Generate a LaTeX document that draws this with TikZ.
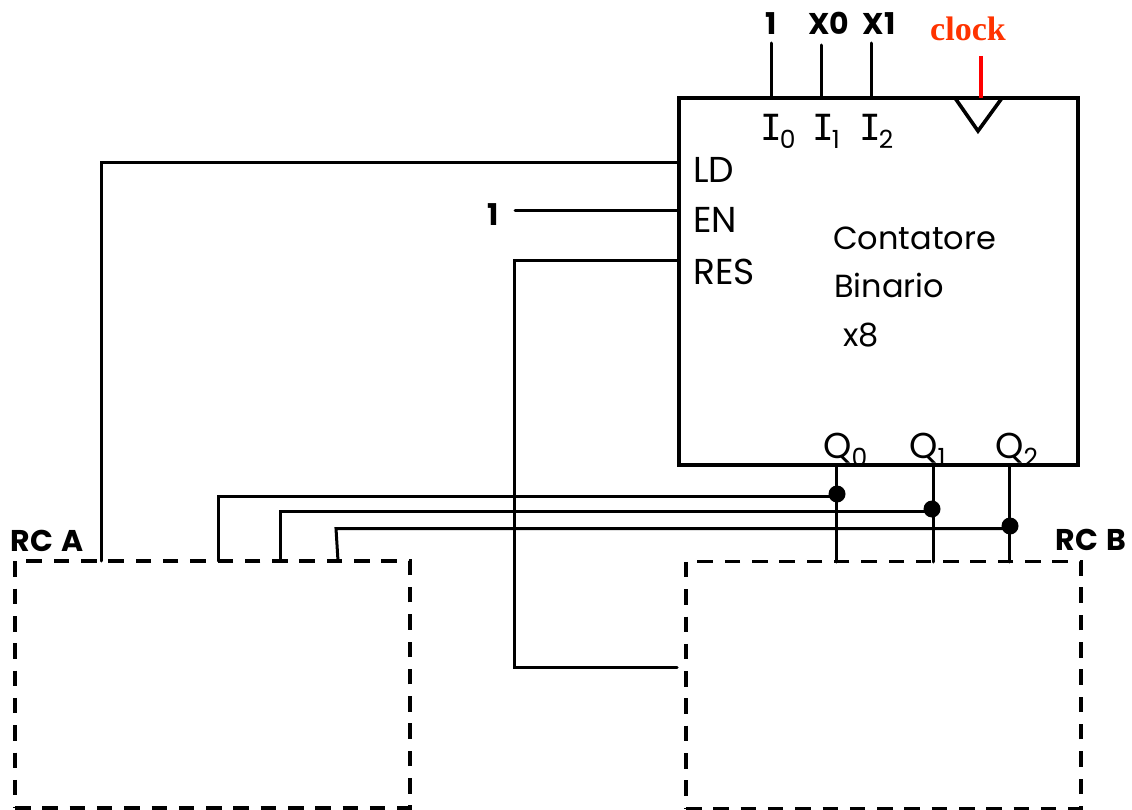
\documentclass[tikz,border=0pt]{standalone}
\usepackage{fontspec}
\setmainfont{Poppins}
\newfontfamily\monofam{DejaVu Sans Mono}
\newfontfamily\clockfam{Liberation Serif}
\usepackage{tikz}
\definecolor{clockred}{RGB}{255,51,0}
\newcommand{\subidx}[1]{\raisebox{-8pt}{\fontsize{25}{25}\selectfont #1}}

\begin{document}
\begin{tikzpicture}[
    x=1pt,y=-1pt,
    wire/.style={line width=3pt,line cap=round},
    block_box/.style={draw,line width=3.6pt,minimum width=399pt,minimum height=367pt,inner sep=0pt},
    rc_box/.style={draw,line width=3.6pt,dash pattern=on 15.5pt off 11.8pt,minimum width=395pt,minimum height=247pt,inner sep=0pt},
    dot_node/.style={circle,fill=black,minimum size=17pt,inner sep=0pt},
    lbl/.style={anchor=base west,inner sep=0pt,font=\fontsize{36}{36}\selectfont},
    lbl_low/.style={anchor=base west,inner sep=0pt,font=\fontsize{32}{32}\selectfont},
    lbl_bold/.style={anchor=base,inner sep=0pt,font=\fontsize{30}{30}\selectfont\bfseries}
  ]
    \useasboundingbox (0,0) rectangle (1132,810);

    % boxes
    \node[block_box] (cnt) at (878.5,281.5) {};
    \node[rc_box] (rca) at (212.5,684.5) {};
    \node[rc_box] (rcb) at (883.5,685) {};

    % clock triangle
    \coordinate (clk_l) at (955,98);
    \coordinate (clk_r) at (1002,98);
    \coordinate (clk_t) at (978,131);
    \draw[line width=3.6pt,line join=miter] (clk_l) -- (clk_t) -- (clk_r);

    % labels in the block
    \node[lbl] (ld) at (693,183) {LD};
    \node[lbl] (en) at (693,233) {EN};
    \node[lbl] (res) at (693,285) {RES};
    \node[lbl_low] (name1) at (833,250) {Contatore};
    \node[lbl_low] (name2) at (834,298) {Binario};
    \node[lbl_low] (name3) at (843,346) {x8};
    \node[lbl] (i0) at (760,141) {{\monofam I}\kern-2pt\subidx{0}};
    \node[lbl] (i1) at (812,141) {{\monofam I}\kern-2pt\subidx{1}};
    \node[lbl] (i2) at (859,141) {{\monofam I}\kern-2pt\subidx{2}};
    \node[lbl] (q0) at (823,458) {Q\subidx{0}};
    \node[lbl] (q1) at (909,458) {Q\subidx{1}};
    \node[lbl] (q2) at (995,458) {Q\subidx{2}};

    % labels outside
    \node[lbl_bold] (one_i) at (771,35) {1};
    \node[lbl_bold] (x0) at (829,35) {X0};
    \node[lbl_bold] (x1) at (879,35) {X1};
    \node[lbl_bold] (one_en) at (493,226) {1};
    \node[lbl_bold] (rca_lbl) at (47,551) {RC\kern2pt{} A};
    \node[lbl_bold] (rcb_lbl) at (1091,550) {RC\kern2pt{} B};
    \node[anchor=base,inner sep=0pt,text=clockred,font=\fontsize{34}{34}\selectfont\clockfam\bfseries] (clk) at (968,41) {clock};

    % pins
    \coordinate (i0_t) at (771,43);
    \coordinate (i0_b) at (771,98);
    \coordinate (i1_t) at (821,45);
    \coordinate (i1_b) at (821,98);
    \coordinate (i2_t) at (871,43);
    \coordinate (i2_b) at (871,98);
    \coordinate (clk_a) at (981,56);
    \coordinate (clk_b) at (981,98);
    \coordinate (ld_in) at (679,162.5);
    \coordinate (en_in) at (679,211);
    \coordinate (en_out) at (515,211);
    \coordinate (res_in) at (679,261);
    \coordinate (res_m1) at (514,261);
    \coordinate (res_m2) at (514,667);
    \coordinate (res_out) at (677,667);
    \coordinate (ld_m) at (101,162.5);
    \coordinate (ld_out) at (101,561);

    \draw[wire] (i0_t) -- (i0_b);
    \draw[wire] (i1_t) -- (i1_b);
    \draw[wire] (i2_t) -- (i2_b);
    \draw[wire,red,line cap=butt,line width=3.6pt] (clk_a) -- (clk_b);
    \draw[wire] (ld_in) -- (ld_m) -- (ld_out);
    \draw[wire] (en_in) -- (en_out);
    \draw[wire] (res_in) -- (res_m1) -- (res_m2) -- (res_out);

    % outputs
    \node[dot_node] (d0) at (837,494) {};
    \node[dot_node] (d1) at (932,509) {};
    \node[dot_node] (d2) at (1010,526) {};
    \coordinate (q0_t) at (836,465);
    \coordinate (q0_b) at (836,562);
    \coordinate (q1_t) at (933,465);
    \coordinate (q1_b) at (933,562);
    \coordinate (q2_t) at (1009,465);
    \coordinate (q2_b) at (1009,562);
    \coordinate (a0_m) at (218,496);
    \coordinate (a0_b) at (218,561);
    \coordinate (a1_m) at (280,511);
    \coordinate (a1_b) at (280,561);
    \coordinate (a2_m) at (336,528.5);
    \coordinate (a2_b) at (338,561);
    \coordinate (d0_w) at (837,496);
    \coordinate (d1_w) at (932,511);
    \coordinate (d2_w) at (1010,528.5);

    \draw[wire] (q0_t) -- (q0_b);
    \draw[wire] (q1_t) -- (q1_b);
    \draw[wire] (q2_t) -- (q2_b);
    \draw[wire] (a0_b) -- (a0_m) -- (d0_w);
    \draw[wire] (a1_b) -- (a1_m) -- (d1_w);
    \draw[wire] (a2_b) -- (a2_m) -- (d2_w);
  \end{tikzpicture}
\end{document}
